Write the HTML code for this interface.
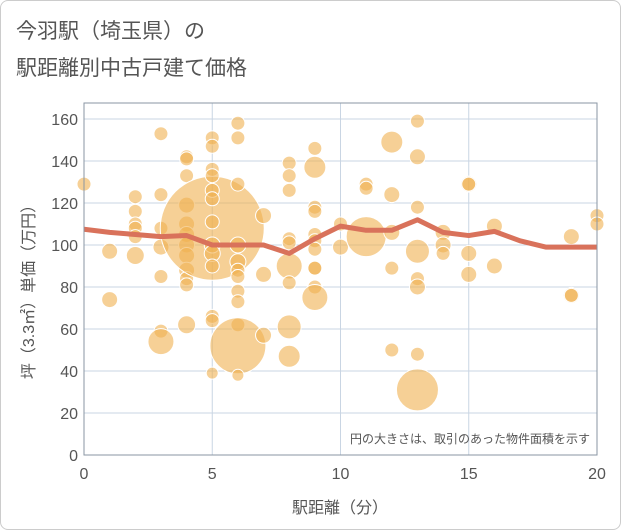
<!DOCTYPE html>
<html><head><meta charset="utf-8"><style>
body{margin:0;background:#fff;font-family:"Liberation Sans","Noto Sans CJK JP",sans-serif;}
.frame{position:absolute;left:0;top:0;width:619px;height:528px;border:1px solid #ccc;border-radius:8px;}
</style></head><body>
<div class="frame"></div>
<svg id="chart" width="621" height="530" style="position:absolute;left:0;top:0">
<text x="16" y="38" font-size="21" fill="#555" font-family="Liberation Sans, Noto Sans CJK JP, sans-serif">今羽駅（埼玉県）の</text>
<text x="16" y="75" font-size="21" fill="#555" font-family="Liberation Sans, Noto Sans CJK JP, sans-serif">駅距離別中古戸建て価格</text>
<g id="grid"></g><g id="bubbles"></g><g id="line"></g><g id="axes"></g>
<text x="590" y="443" font-size="12" fill="#555" text-anchor="end" font-family="Liberation Sans, Noto Sans CJK JP, sans-serif">円の大きさは、取引のあった物件面積を示す</text>
<text x="340" y="513" font-size="16" fill="#555" text-anchor="middle" font-family="Liberation Sans, Noto Sans CJK JP, sans-serif">駅距離（分）</text>
<text transform="translate(34,288) rotate(-90)" font-size="16" fill="#555" text-anchor="middle" font-family="Liberation Sans, Noto Sans CJK JP, sans-serif">坪（3.3㎡）単価（万円）</text>
</svg>
<script>
const xTicks=[0,5,10,15,20];
const yTicks=[0,20,40,60,80,100,120,140,160];
const bx=[0,1,1,2,2,2,2,2,2,3,3,3,3,3,3,3,4,4,4,4,4,4,4,4,4,4,4,4,5,5,5,5,5,5,5,5,5,5,5,5,5,5,6,6,6,6,6,6,6,6,6,6,6,6,7,7,7,8,8,8,8,8,8,8,8,8,9,9,9,9,9,9,9,9,9,9,9,10,10,11,11,11,12,12,12,12,12,13,13,13,13,13,13,13,13,14,14,14,15,15,15,15,16,16,19,19,19,20,20];
const by=[129,97,74,123,116,110,108,104,95,153,124,108,99,85,59,54,142,141,133,119,110,105,100,95,88,84,81,62,108,151,147,136,133,126,122,111,100,96,90,66,64,39,158,151,129,100,92,88,85,78,73,62,52,38,114,86,57,139,133,126,103,101,90,82,61,47,146,137,118,116,105,102,98,89,89,80,75,110,99,129,127,104,149,124,106,89,50,159,142,118,97,84,80,48,31,106,100,96,129,129,96,86,109,90,104,76,76,114,110];
const bs=[7,8,8,7,7,7,7,7,9,7,7,7,8,7,7,13,7,7,7,8,8,8,8,8,8,7,7,9,52,7,7,7,7,7,7,7,8,8,7,7,7,6,7,7,7,8,8,7,7,7,7,7,28,6,8,8,8,7,7,7,7,7,13,7,12,11,7,11,7,7,7,7,7,7,7,7,13,7,8,7,7,20,11,8,8,7,7,7,8,7,12,7,8,7,21,8,8,7,8,7,8,8,8,8,8,8,7,7,7];
const lx=[0,1,2,3,4,5,6,7,8,9,10,11,12,13,14,15,16,17,18,19,20];
const ly=[107.5,106,105,104,104.5,100,100,100,96,103,109,107,107,112,106,104.5,106.5,102,99,99,99];
const L=84,R=597,T=103,B=455;
const X=v=>L+(v-0)/20*(R-L);
const Y=v=>455-v*2.1;
const ns="http://www.w3.org/2000/svg";
function mk(g,t,a){const e=document.createElementNS(ns,t);for(const k in a)e.setAttribute(k,a[k]);document.getElementById(g).appendChild(e);return e;}
for(const t of yTicks){const e=mk('grid','line',{x1:L,x2:R,y1:Y(t),y2:Y(t),stroke:'#c9d5e3','stroke-width':1});


const tx=mk('axes','text',{x:L-6,y:Y(t)+6,'text-anchor':'end','font-size':16,fill:'#555'});tx.textContent=t;

}
for(const t of xTicks){const e=mk('grid','line',{x1:X(t),x2:X(t),y1:T,y2:B,stroke:'#c9d5e3','stroke-width':1});


const tx=mk('axes','text',{x:X(t),y:B+24,'text-anchor':'middle','font-size':16,fill:'#555'});tx.textContent=t;

}
const fr=mk('axes','rect',{x:L,y:T,width:R-L,height:B-T,fill:'none',stroke:'#8a96a3','stroke-width':1});


for(let i=0;i<bx.length;i++){const c=mk('bubbles','circle',{cx:X(bx[i]),cy:Y(by[i]),r:bs[i],fill:'rgba(240,176,80,0.6)',stroke:'#fff','stroke-width':1});

}
const p=mk('line','polyline',{points:lx.map((v,i)=>X(v)+','+Y(ly[i])).join(' '),fill:'none',stroke:'#d9725b','stroke-width':5,'stroke-linejoin':'round'});


</script>
</body></html>
